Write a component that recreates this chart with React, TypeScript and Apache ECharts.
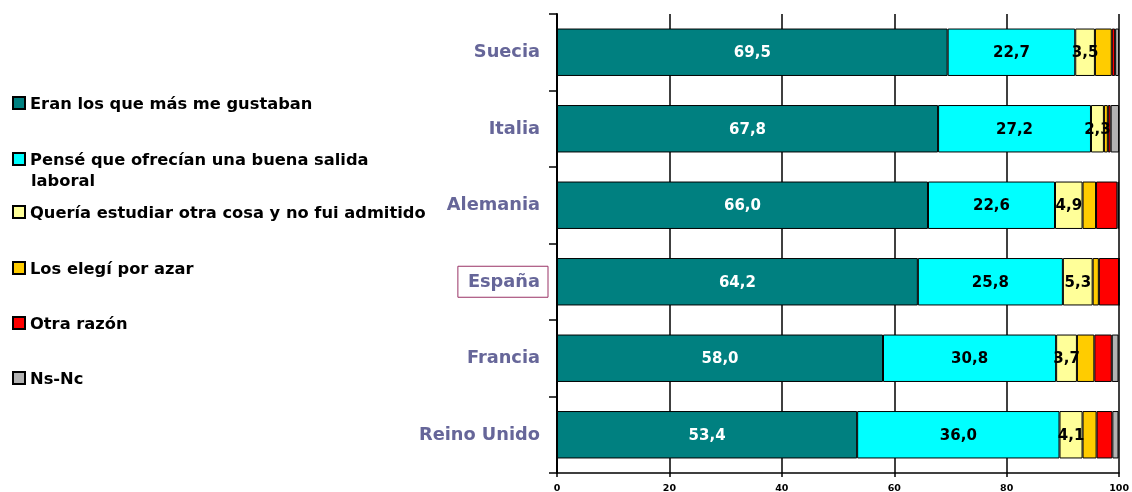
import React, { useEffect, useRef } from "react";
import * as echarts from "echarts";

const countries = ["Suecia", "Italia", "Alemania", "España", "Francia", "Reino Unido"];
const seriesNames = [
  "Eran los que más me gustaban",
  "Pensé que ofrecían una buena salida laboral",
  "Quería estudiar otra cosa y no fui admitido",
  "Los elegí por azar",
  "Otra razón",
  "Ns-Nc",
];
const gustaban = [69.5, 67.8, 66.0, 64.2, 58.0, 53.4];
const salida = [22.7, 27.2, 22.6, 25.8, 30.8, 36.0];
const noAdmitido = [3.5, 2.3, 4.9, 5.3, 3.7, 4.1];
const azar = [3.0, 0.7, 2.4, 1.1, 3.1, 2.5];
const otra = [0.6, 0.5, 3.8, 3.6, 3.1, 2.8];
const nsnc = [0.7, 1.5, 0.3, 0.0, 1.2, 1.1];
const colors = ["#008080", "#00FFFF", "#FFFF99", "#FFCC00", "#FF0000", "#B2B2B2"];
const labelColors = ["#ffffff", "#000000", "#000000", null, null, null];
const legendCenters = [103, 159, 212, 268, 323, 378];
const highlighted = "España";

const FONT = "DejaVu Sans";

export default function App() {
  const ref = useRef<HTMLDivElement>(null);
  useEffect(() => {
    if (!ref.current) return;
    const chart = echarts.init(ref.current, null, { renderer: "svg" });
    const allData = [gustaban, salida, noAdmitido, azar, otra, nsnc];
    const series = allData.map((d, i) => ({
      name: seriesNames[i],
      type: "bar",
      stack: "total",
      data: d,
      barCategoryGap: "38%",
      itemStyle: { color: colors[i], borderColor: "#000", borderWidth: 1 },
      label: labelColors[i]
        ? {
            show: true,
            position: "inside",
            color: labelColors[i],
            fontFamily: FONT,
            fontWeight: "bold",
            fontSize: 15,
            formatter: (p: any) => p.value.toFixed(1).replace(".", ","),
          }
        : { show: false },
    }));
    const legends = seriesNames.map((n, i) => ({
      data: [{ name: n, icon: "rect" }],
      orient: "vertical",
      left: 12,
      top: legendCenters[i] - 10,
      padding: 0,
      itemWidth: 12,
      itemHeight: 12,
      itemGap: 0,
      selectedMode: false,
      textStyle: { fontFamily: FONT, fontWeight: "bold", fontSize: 16.3, color: "#000", lineHeight: 20 },
      formatter: i === 1 ? () => "Pensé que ofrecían una buena salida" : undefined,
    }));
    chart.setOption({
      animation: false,
      legend: legends,
      graphic: [
        {
          type: "text",
          left: 31,
          top: 172,
          style: { text: "laboral", fontFamily: FONT, fontWeight: "bold", fontSize: 16.3, fill: "#000" },
        },
      ],
      grid: { left: 557, right: 9, top: 14, bottom: 19, containLabel: false },
      xAxis: {
        type: "value",
        min: 0,
        max: 100,
        interval: 20,
        axisLine: { show: true, lineStyle: { color: "#000", width: 1.5 } },
        axisTick: { show: true, length: 4, lineStyle: { color: "#000", width: 1.5 } },
        splitLine: { show: true, lineStyle: { color: "#000", width: 1.5 } },
        axisLabel: { color: "#000", fontFamily: FONT, fontWeight: "bold", fontSize: 9.5, margin: 9 },
      },
      yAxis: {
        type: "category",
        inverse: true,
        data: countries,
        axisLine: { show: true, lineStyle: { color: "#000", width: 2 } },
        axisTick: { show: true, length: 8, lineStyle: { color: "#000", width: 1.5 } },
        axisLabel: {
          margin: 9,
          formatter: (v: string) => (v === highlighted ? `{box|${v}}` : `{plain|${v}}`),
          rich: {
            plain: {
              color: "#666699",
              fontFamily: FONT,
              fontWeight: "bold",
              fontSize: 17.8,
              padding: [5, 8, 8, 10],
            },
            box: {
              color: "#666699",
              fontFamily: FONT,
              fontWeight: "bold",
              fontSize: 17.8,
              padding: [5, 8, 8, 10],
              borderColor: "#993366",
              borderWidth: 1,
            },
          },
        },
      },
      series,
    });
    return () => chart.dispose();
  }, []);
  return <div ref={ref} style={{ position: "fixed", left: 0, top: 0, width: 1132, height: 492 }} />;
}
